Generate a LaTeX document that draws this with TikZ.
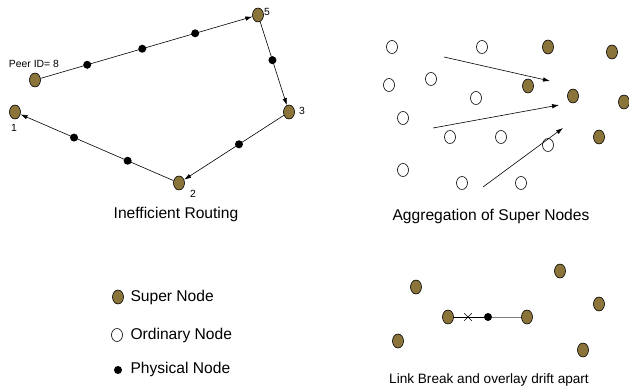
\documentclass[tikz,border=0pt]{standalone}
\usepackage{fontspec}
\setmainfont{Liberation Sans}
\usetikzlibrary{arrows.meta,shapes.geometric,shapes.misc}
\definecolor{superbrown}{RGB}{139,116,58}
\begin{document}
\begin{tikzpicture}[x=1pt,y=-1pt,>={Latex[length=7pt,width=4.5pt]},
    supernode/.style={ellipse,draw=black,fill=superbrown,line width=0.6pt,
        minimum width=11pt,minimum height=14pt,inner sep=0pt},
    ordnode/.style={ellipse,draw=black,fill=white,line width=0.6pt,
        minimum width=11pt,minimum height=13pt,inner sep=0pt},
    physnode/.style={circle,fill=black,minimum size=8pt,inner sep=0pt},
    smalllabel/.style={font=\fontsize{10.4}{11}\selectfont,inner sep=1pt},
    title/.style={font=\fontsize{15.6}{17}\selectfont},
    legendtext/.style={font=\fontsize{15.6}{17}\selectfont,anchor=west}]
    \useasboundingbox (0,0) rectangle (629,390);

    % inefficient routing
    \node[supernode] (8) at (35,80)   {};
    \node[supernode] (5) at (258,15)  {};
    \node[supernode] (3) at (289,112) {};
    \node[supernode] (2) at (179,183) {};
    \node[supernode] (1) at (15,112)  {};
    \node[smalllabel] (l8) at (34,64)   {Peer ID= 8};
    \node[smalllabel] (l5) at (267,12)  {5};
    \node[smalllabel] (l3) at (302,111) {3};
    \node[smalllabel] (l2) at (193,194) {2};
    \node[smalllabel] (l1) at (14,128)  {1};

    \path[->,line width=0.6pt]
        (8) edge node[physnode,pos=0.22] {}
                 node[physnode,pos=0.48] {}
                 node[physnode,pos=0.73] {} (5)
        (5) edge node[physnode,pos=0.46] {} (3)
        (3) edge node[physnode,pos=0.45] {} (2)
        (2) edge node[physnode,pos=0.3] {}
                 node[physnode,pos=0.65] {} (1);
    \node[title] (t1) at (176,214) {Inefficient Routing};

    % aggregation of super nodes
    \node[ordnode] (o1)  at (392,47)  {};
    \node[ordnode] (o2)  at (482,47)  {};
    \node[ordnode] (o3)  at (389,85)  {};
    \node[ordnode] (o4)  at (431,79)  {};
    \node[ordnode] (o5)  at (476,98)  {};
    \node[ordnode] (o6)  at (403,118) {};
    \node[ordnode] (o7)  at (450,137) {};
    \node[ordnode] (o8)  at (501,137) {};
    \node[ordnode] (o9)  at (548,145) {};
    \node[ordnode] (o10) at (403,170) {};
    \node[ordnode] (o11) at (462,183) {};
    \node[ordnode] (o12) at (521,183) {};
    \node[supernode] (s1) at (548,47)  {};
    \node[supernode] (s2) at (612,52)  {};
    \node[supernode] (s3) at (528,86)  {};
    \node[supernode] (s4) at (573,96)  {};
    \node[supernode] (s5) at (624,102) {};
    \node[supernode] (s6) at (599,137) {};
    \coordinate (a1) at (444,57);  \coordinate (b1) at (550,81);
    \coordinate (a2) at (433,128); \coordinate (b2) at (559,105);
    \coordinate (a3) at (483,187); \coordinate (b3) at (563,128);
    \draw[->,line width=0.6pt] (a1) -- (b1);
    \draw[->,line width=0.6pt] (a2) -- (b2);
    \draw[->,line width=0.6pt] (a3) -- (b3);
    \node[title] (t2) at (491,216) {Aggregation of Super Nodes};

    % legend
    \node[supernode] (ls) at (118,297) {};
    \node[ordnode]   (lo) at (117,335) {};
    \node[physnode]  (lp) at (118,370) {};
    \node[legendtext] (lst) at (127,297) {Super Node};
    \node[legendtext] (lot) at (127,335) {Ordinary Node};
    \node[legendtext] (lpt) at (127,369) {Physical Node};

    % link break
    \node[supernode] (d1) at (416,287) {};
    \node[supernode] (d2) at (560,271) {};
    \node[supernode] (d3) at (448,317) {};
    \node[supernode] (d4) at (527,317) {};
    \node[supernode] (d5) at (599,304) {};
    \node[supernode] (d6) at (398,341) {};
    \node[supernode] (d7) at (583,350) {};
    \node[physnode] (dp) at (488,317) {};
    \node[cross out,draw,minimum size=7pt,inner sep=0pt,line width=0.5pt] (x) at (468,317) {};
    \draw[line width=0.6pt] (d3) -- (dp);
    \draw[line width=0.8pt,gray] (dp) -- (d4);
    \node[font=\fontsize{13.6}{15}\selectfont] (t3) at (489,380) {Link Break and overlay drift apart};
\end{tikzpicture}
\end{document}
